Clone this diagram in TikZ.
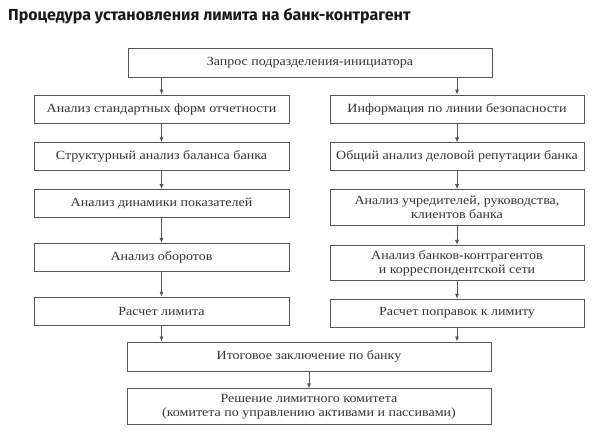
\documentclass[tikz,border=0pt]{standalone}
\usepackage{fontspec}
\setmainfont{Liberation Serif}[FakeStretch=1.12]
\newfontfamily\titlefont{Fira Sans}
\usetikzlibrary{positioning,shapes,arrows.meta}
\definecolor{boxline}{HTML}{555555}
\definecolor{boxtext}{HTML}{333333}
\tikzstyle{block} = [draw=boxline, line width=0.8pt, text=boxtext, font=\fontsize{12.5}{14}\selectfont, align=center, inner sep=0pt]
\tikzstyle{wide} = [block, minimum width=364pt, minimum height=29pt]
\tikzstyle{left} = [block, minimum width=255pt, minimum height=28pt]
\tikzstyle{right} = [block, minimum width=254pt, minimum height=28pt]
\tikzstyle{line} = [draw=boxline, line width=0.8pt, -{Latex[length=5pt,width=4pt]}]

\begin{document}
\begin{tikzpicture}[x=1pt,y=1pt]
        \useasboundingbox (0,0) rectangle (600,-438);
        %Title
        \node [anchor=base west, inner sep=0pt, font=\titlefont\bfseries\fontsize{16}{18}\selectfont, text=black!90] (title) at (8,-21) {Процедура установления лимита на банк-контрагент};
        %Blocks
        \node [wide] (request) at (310,-62.5) {Запрос подразделения-инициатора};
        \node [left] (forms) at (161.5,-109) {Анализ стандартных форм отчетности};
        \node [left, below = 19pt of forms] (balance) {Структурный анализ баланса банка};
        \node [left, below = 18pt of balance] (dynamics) {Анализ динамики показателей};
        \node [left, below = 25pt of dynamics] (turnover) {Анализ оборотов};
        \node [left, below = 25pt of turnover] (limit) {Расчет лимита};
        \node [right] (security) at (457,-109) {Информация по линии безопасности};
        \node [right, below = 19pt of security] (reputation) {Общий анализ деловой репутации банка};
        \node [right, below = 18pt of reputation, minimum height=36pt] (founders) {Анализ учредителей, руководства,\\клиентов банка};
        \node [right, below = 19pt of founders, minimum height=35pt] (network) {Анализ банков-контрагентов\\и корреспондентской сети};
        \node [right, below = 18pt of network] (corrections) {Расчет поправок к лимиту};
        \node [wide] (summary) at (309,-356.5) {Итоговое заключение по банку};
        \node [wide, below = 17pt of summary, minimum height=36pt] (decision) {Решение лимитного комитета\\(комитета по управлению активами и пассивами)};
        %Arrows
        \draw[line] (request.south -| forms.north) -- (forms.north);
        \draw[line] (request.south -| security.north) -- (security.north);
        \draw[line] (forms) -- (balance);
        \draw[line] (balance) -- (dynamics);
        \draw[line] (dynamics) -- (turnover);
        \draw[line] (turnover) -- (limit);
        \draw[line] (security) -- (reputation);
        \draw[line] (reputation) -- (founders);
        \draw[line] (founders) -- (network);
        \draw[line] (network) -- (corrections);
        \draw[line] (limit.south) -- (limit.south |- summary.north);
        \draw[line] (corrections.south) -- (corrections.south |- summary.north);
        \draw[line] (summary) -- (decision);
    \end{tikzpicture}
\end{document}
